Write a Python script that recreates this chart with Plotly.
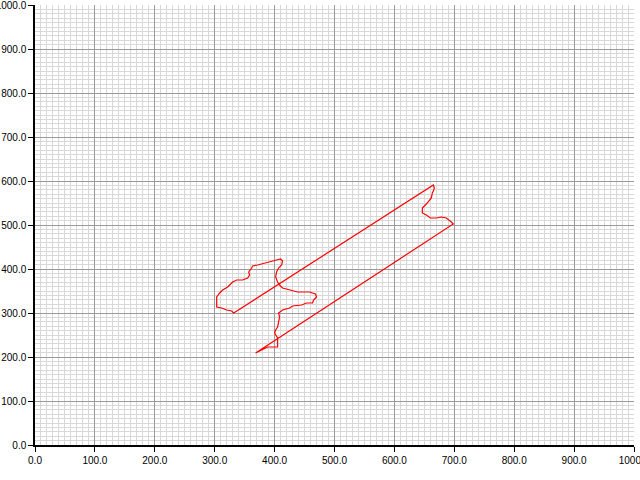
import plotly.graph_objects as go

track_x = [368.3, 380, 388.3, 396.7, 405, 405, 400, 401.7, 405, 408.3, 406.7, 413.3, 425, 430,
           445, 453.3, 463.3, 465, 470, 468.3, 458.3, 438.3, 425, 413.3, 408.3, 405, 401.7, 403.3,
           406.7, 411.7, 413.3, 410, 403.3, 396.7, 388.3, 380, 371.7, 363.3, 361.7, 356.7, 358.3,
           355, 346.7, 336.7, 330, 321.7, 313.3, 308.3, 303.3, 303.3, 303.3, 311.7, 320, 328.3,
           331.7,
           665, 666.7, 665, 663.3, 661.7, 656.7, 653.3, 646.7, 646.7, 653.3, 660, 670, 678.3,
           686.7, 691.7, 695, 698.3,
           368.3]
track_y = [209.1, 218.2, 222.7, 222.7, 222.7, 243.2, 254.5, 261.4, 268.2, 290.9, 300, 306.8, 311.4,
           315.9, 318.2, 322.7, 322.7, 329.5, 336.4, 343.2, 347.7, 347.7, 352.3, 356.8, 363.6,
           370.5, 381.8, 393.2, 402.3, 409.1, 418.2, 422.7, 420.5, 418.2, 413.6, 411.4, 409.1,
           406.8, 402.3, 393.2, 386.4, 379.5, 375, 375, 370.5, 359.1, 352.3, 345.5, 336.4, 325,
           313.6, 311.4, 306.8, 304.5, 300,
           590.9, 584.1, 577.3, 572.7, 561.4, 552.3, 547.7, 538.6, 527.3, 522.7, 515.9, 515.9,
           518.2, 515.9, 511.4, 506.8, 502.3,
           209.1]

axis_range = [0, 1000]
major_step = 100
minor_step = 10

fig = go.Figure()
fig.add_trace(go.Scatter(x=track_x, y=track_y, mode="lines",
                         line=dict(color="#ff0000", width=1.2), hoverinfo="skip"))

axis_common = dict(
    range=axis_range, dtick=major_step, tick0=0, tickformat=".1f",
    showgrid=True, gridcolor="#9a9a9a", gridwidth=1,
    minor=dict(dtick=minor_step, showgrid=True, gridcolor="#d8d8d8", gridwidth=1, ticks=""),
    showline=True, linecolor="black", linewidth=1.5,
    ticks="outside", ticklen=5, tickcolor="black", tickwidth=1,
    tickfont=dict(family="Liberation Sans, Arial, sans-serif", size=10, color="black"),
    ticklabeloverflow="allow",
    zeroline=False, automargin=False, fixedrange=True,
)

fig.update_layout(
    width=640, height=480,
    margin=dict(l=35, r=6, t=5, b=35),
    plot_bgcolor="white", paper_bgcolor="white",
    showlegend=False,
    xaxis=dict(**axis_common),
    yaxis=dict(**axis_common),
)

fig.write_html("out.html", config={"displayModeBar": False})
